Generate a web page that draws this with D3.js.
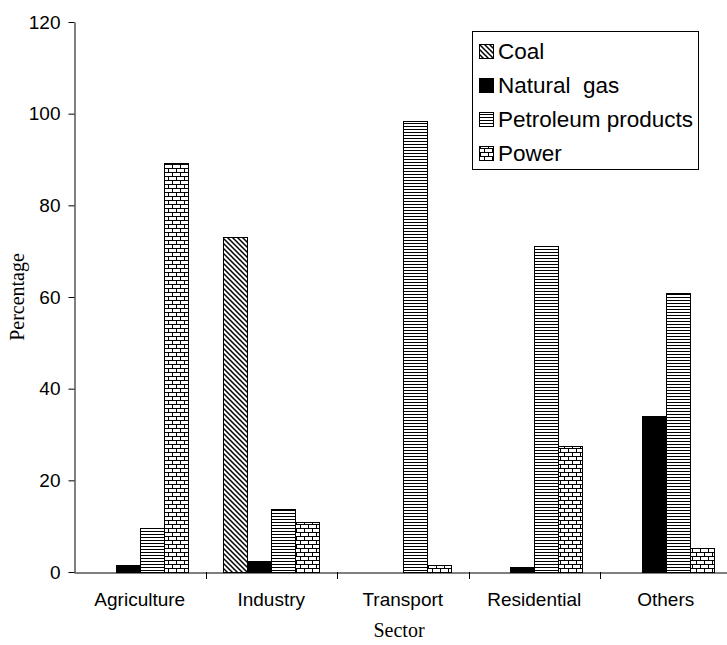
<!DOCTYPE html>
<html>
<head>
<meta charset="utf-8">
<script src="https://cdn.jsdelivr.net/npm/d3@7"></script>
<style>
  html, body { margin: 0; padding: 0; background: #fff; }
  svg { display: block; }
</style>
</head>
<body>
<svg id="chart" width="727" height="645"></svg>
<script>
// Share of each fuel in final energy use, by sector (%)
const categories = ["Agriculture", "Industry", "Transport", "Residential", "Others"];
const seriesNames = ["Coal", "Natural  gas", "Petroleum products", "Power"];
const coal       = [0, 73.1, 0, 0, 0];
const naturalGas = [1.5, 2.5, 0, 1.2, 34.0];
const petroleum  = [9.6, 13.7, 98.3, 71.2, 60.9];
const power      = [89.2, 10.9, 1.6, 27.6, 5.3];
const yTicks     = [0, 20, 40, 60, 80, 100, 120];

const seriesValues = [coal, naturalGas, petroleum, power];

const svg = d3.select("#chart");
const plotLeft = 74, plotRight = 731.5, plotTop = 22, plotBottom = 572;

// Fill patterns for each fuel
const defs = svg.append("defs");
const pCoal = defs.append("pattern").attr("id", "pat-coal")
  .attr("patternUnits", "userSpaceOnUse").attr("width", 5).attr("height", 5);
pCoal.append("rect").attr("width", 5).attr("height", 5).attr("fill", "#fff");
pCoal.append("path").attr("d", "M-1,-1L6,6M-1,4L1,6M4,-1L6,1")
  .attr("stroke", "#000").attr("stroke-width", 1.5);

const pPetro = defs.append("pattern").attr("id", "pat-petro")
  .attr("patternUnits", "userSpaceOnUse").attr("width", 6).attr("height", 3);
pPetro.append("rect").attr("width", 6).attr("height", 3).attr("fill", "#fff");
pPetro.append("rect").attr("y", 0).attr("width", 6).attr("height", 1).attr("fill", "#000");

const pPower = defs.append("pattern").attr("id", "pat-power")
  .attr("patternUnits", "userSpaceOnUse").attr("width", 8).attr("height", 8);
pPower.append("rect").attr("width", 8).attr("height", 8).attr("fill", "#fff");
pPower.append("path")
  .attr("d", "M0,0.5H8M0,4.5H8M0.5,0V4.5M4.5,4.5V8")
  .attr("stroke", "#000").attr("stroke-width", 1).attr("fill", "none");

const fills = ["url(#pat-coal)", "#000", "url(#pat-petro)", "url(#pat-power)"];

// Scales
const x = d3.scaleBand().domain(categories).range([plotLeft, plotRight]).padding(0);
const xs = d3.scaleBand().domain(seriesNames).range([0, x.bandwidth()])
  .paddingInner(0).paddingOuter(0.74);
const y = d3.scaleLinear().domain([0, 120]).range([plotBottom, plotTop]);

// Bars
categories.forEach((cat, ci) => {
  seriesNames.forEach((s, si) => {
    const v = seriesValues[si][ci];
    if (!v) return;
    svg.append("rect")
      .attr("x", Math.round(x(cat) + xs(s)) + 0.5)
      .attr("y", Math.round(y(v)) + 0.5)
      .attr("width", Math.round(xs.bandwidth()))
      .attr("height", Math.round(y(0)) - Math.round(y(v)))
      .attr("fill", fills[si])
      .attr("stroke", "#000")
      .attr("stroke-width", 1);
  });
});

// Y axis
const yAxis = svg.append("g")
  .attr("transform", `translate(${plotLeft + 0.5},0)`)
  .call(d3.axisLeft(y).tickValues(yTicks).tickSize(6).tickSizeOuter(0).tickPadding(8));
yAxis.selectAll("text")
  .attr("font-family", "'Liberation Sans', Arial, sans-serif")
  .attr("font-size", 19).attr("fill", "#000");
yAxis.selectAll("line, path").attr("stroke", "#000");

// X axis: labels centred in each band, ticks on band boundaries
const xAxis = svg.append("g")
  .attr("transform", `translate(0,${plotBottom + 0.5})`)
  .call(d3.axisBottom(x).tickSize(0).tickSizeOuter(0).tickPadding(20));
xAxis.select(".domain").attr("stroke", "#000");
xAxis.selectAll("text")
  .attr("font-family", "'Liberation Sans', Arial, sans-serif")
  .attr("font-size", 19).attr("fill", "#000");
categories.forEach((cat) => {
  const bx = Math.round(x(cat) + x.bandwidth()) + 0.5;
  svg.append("line").attr("x1", bx).attr("x2", bx)
    .attr("y1", plotBottom).attr("y2", plotBottom + 7).attr("stroke", "#000");
});

// Axis titles
svg.append("text")
  .attr("transform", `translate(24,${(plotTop + plotBottom) / 2}) rotate(-90)`)
  .attr("text-anchor", "middle")
  .attr("font-family", "'Liberation Serif', 'Times New Roman', serif")
  .attr("font-size", 20)
  .text("Percentage");
svg.append("text")
  .attr("x", 399).attr("y", 637)
  .attr("text-anchor", "middle")
  .attr("font-family", "'Liberation Serif', 'Times New Roman', serif")
  .attr("font-size", 20)
  .text("Sector");

// Legend
const legend = svg.append("g");
legend.append("rect")
  .attr("x", 472.5).attr("y", 31.5).attr("width", 226).attr("height", 138)
  .attr("fill", "#fff").attr("stroke", "#000");
seriesNames.forEach((s, i) => {
  const by = 59 + i * 34;
  legend.append("rect")
    .attr("x", 479.5).attr("y", by - 14.5).attr("width", 14).attr("height", 14)
    .attr("fill", fills[i]).attr("stroke", "#000");
  legend.append("text")
    .attr("x", 498).attr("y", by)
    .attr("font-family", "'Liberation Sans', Arial, sans-serif")
    .attr("font-size", 22.5)
    .style("white-space", "pre")
    .attr("xml:space", "preserve")
    .text(s);
});
</script>
</body>
</html>
